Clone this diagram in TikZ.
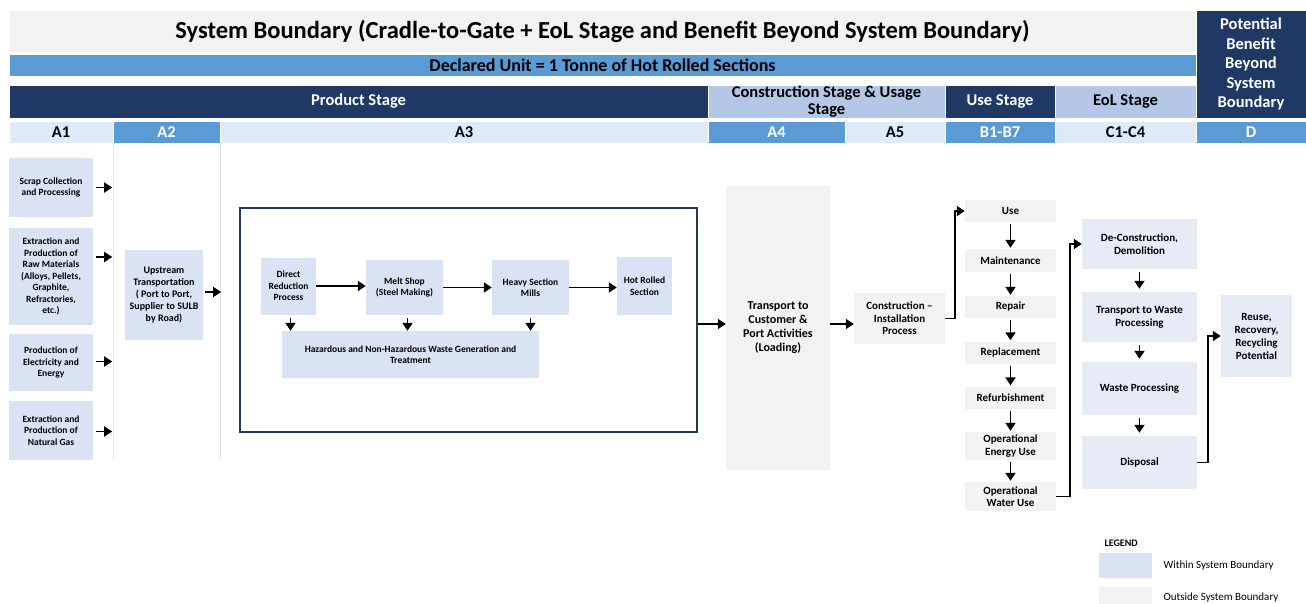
\documentclass[tikz,border=0pt]{standalone}
\usepackage{fontspec}
\setmainfont{Carlito}
\usetikzlibrary{calc,arrows.meta}

\definecolor{navy}{HTML}{203864}
\definecolor{midblue}{HTML}{5B9BD5}
\definecolor{paleblue}{HTML}{B4C7E7}
\definecolor{iceblue}{HTML}{DEEBF7}
\definecolor{inbox}{HTML}{DAE3F3}
\definecolor{inboxlt}{HTML}{E6EBF6}
\definecolor{outbox}{HTML}{F2F2F2}

\tikzset{
  cell/.style={inner sep=0, draw=white, line width=0.8pt, align=center,
    font=\bfseries\fontsize{16.5}{19.5}\selectfont},
  within/.style={inner sep=0, fill=inbox, align=center,
    font=\bfseries\fontsize{9.5}{11.5}\selectfont},
  withinlt/.style={within, fill=inboxlt,
    font=\bfseries\fontsize{11}{13}\selectfont},
  outside/.style={inner sep=0, fill=outbox, align=center,
    font=\bfseries\fontsize{11}{12.5}\selectfont},
  arr/.style={-{Triangle[length=8pt,width=10pt]}, line width=1.8pt},
  sepline/.style={draw=black!9, line width=1.2pt},
}

\begin{document}
\begin{tikzpicture}[x=1pt, y=-1pt]

    \useasboundingbox (0,0) rectangle (1306,604);

    % --- Header bands ---
    \node[cell, fill=outbox, minimum width=1187, minimum height=42,
      font=\bfseries\fontsize{24.5}{28}\selectfont] (title) at (602.5,31)
      {System Boundary (Cradle-to-Gate + EoL Stage and Benefit Beyond System Boundary)};
    \node[cell, fill=midblue, minimum width=1187, minimum height=22,
      font=\bfseries\fontsize{18}{20}\selectfont] (declared) at (602.5,65)
      {Declared Unit = 1 Tonne of Hot Rolled Sections};

    % Stages
    \node[cell, fill=navy, text=white, minimum width=699, minimum height=33] (product) at (358.5,101.5) {Product Stage};
    \node[cell, fill=paleblue, minimum width=237, minimum height=33] (constage) at (826.5,101.5) {Construction Stage \& Usage\\[-2pt]Stage};
    \node[cell, fill=navy, text=white, minimum width=110, minimum height=33] (usestage) at (1000,101.5) {Use Stage};
    \node[cell, fill=paleblue, minimum width=141, minimum height=33] (eolstage) at (1125.5,101.5) {EoL Stage};
    \node[cell, fill=navy, text=white, minimum width=110, minimum height=108] (dstage) at (1251,64)
      {Potential\\Benefit\\Beyond\\System\\Boundary};

    % Modules
    \node[cell, fill=iceblue, minimum width=104, minimum height=22] (a1hdr) at (61,132) {A1};
    \node[cell, fill=midblue, text=white, minimum width=107, minimum height=22] (a2hdr) at (166.5,132) {A2};
    \node[cell, fill=iceblue, minimum width=488, minimum height=22] (a3hdr) at (464,132) {A3};
    \node[cell, fill=midblue, text=white, minimum width=137, minimum height=22] (a4hdr) at (776.5,132) {A4};
    \node[cell, fill=iceblue, minimum width=100, minimum height=22] (a5hdr) at (895,132) {A5};
    \node[cell, fill=midblue, text=white, minimum width=110, minimum height=22] (bhdr) at (1000,132) {B1-B7};
    \node[cell, fill=iceblue, minimum width=141, minimum height=22] (chdr) at (1125.5,132) {C1-C4};
    \node[cell, fill=midblue, text=white, minimum width=110, minimum height=22] (dhdr) at (1251,132) {D};

    % Column separators
    \draw[sepline] (a1hdr.south east) -- ++(0,317);
    \draw[sepline] (a2hdr.south east) -- ++(0,317);

    % --- A1 ---
    \node[within, minimum width=84, minimum height=59] (scrap) at (51,187.5) {Scrap Collection\\and Processing};
    \node[within, minimum width=84, minimum height=97] (raw) at (51,276.5)
      {Extraction and\\Production of\\Raw Materials\\(Alloys, Pellets,\\Graphite,\\Refractories,\\etc.)};
    \node[within, minimum width=84, minimum height=57] (elec) at (51,362.5) {Production of\\Electricity and\\Energy};
    \node[within, minimum width=84, minimum height=59] (gas) at (51,430.5) {Extraction and\\Production of\\Natural Gas};

    \draw[arr] ($(scrap.east)+(3,0)$) -- ++(16,0);
    \draw[arr] ($(raw.east)+(3,-19.5)$) -- ++(16,0);
    \draw[arr] ($(elec.east)+(3,-1)$) -- ++(16,0);
    \draw[arr] ($(gas.east)+(3,1)$) -- ++(16,0);

    % --- A2 ---
    \node[within, minimum width=78, minimum height=90,
      font=\bfseries\fontsize{10}{12}\selectfont] (upstream) at (164,295)
      {Upstream\\Transportation\\( Port to Port,\\Supplier to SULB\\by Road)};
    \draw[arr] ($(upstream.east)+(2,-3)$) -- ++(16,0);

    % --- A3 ---
    \node[draw=navy, line width=2pt, minimum width=457, minimum height=224] (a3frame) at (468.5,320) {};

    \node[within, minimum width=55, minimum height=57] (dr) at (288.5,286) {Direct\\Reduction\\Process};
    \node[within, minimum width=77, minimum height=55] (melt) at (404.5,287.5) {Melt Shop\\(Steel Making)};
    \node[within, minimum width=77, minimum height=55] (mills) at (530.5,287.5) {Heavy Section\\Mills};
    \node[within, minimum width=55, minimum height=58] (hot) at (644.5,286) {Hot Rolled\\Section};
    \node[within, minimum width=257, minimum height=47] (waste) at (410.5,354.5)
      {Hazardous and Non-Hazardous Waste Generation and\\Treatment};

    \draw[arr] (dr.east) -- (dr.east -| melt.west);
    \draw[arr] (melt.east) -- (mills.west);
    \draw[arr] (mills.east) -- (mills.east -| hot.west);

    \draw[arr, shorten <=3pt] ([xshift=2pt]dr.south) -- ([xshift=2pt]dr.south |- waste.north);
    \draw[arr, shorten <=3pt] ([xshift=3pt]melt.south) -- ([xshift=3pt]melt.south |- waste.north);
    \draw[arr, shorten <=3pt] (mills.south) -- (mills.south |- waste.north);

    % --- A4 / A5 ---
    \node[outside, minimum width=104, minimum height=284,
      font=\bfseries\fontsize{12}{14}\selectfont] (trans) at (778,328)
      {Transport to\\Customer \&\\Port Activities\\(Loading)};
    \node[outside, minimum width=91, minimum height=51] (constr) at (899.5,318.5)
      {Construction --\\Installation\\Process};

    \draw[arr] ([yshift=-4pt]a3frame.east) -- ([yshift=-4pt]a3frame.east -| trans.west);
    \draw[arr] ([yshift=4pt]trans.east) -- ([yshift=4pt]trans.east -| constr.west);

    % --- B1-B7 ---
    \node[outside, minimum width=91, minimum height=22] (use) at (1010.5,211) {Use};
    \node[outside, minimum width=91, minimum height=23] (maint) at (1010.5,260.5) {Maintenance};
    \node[outside, minimum width=91, minimum height=22] (repair) at (1010.5,307) {Repair};
    \node[outside, minimum width=91, minimum height=22] (repl) at (1010.5,352.5) {Replacement};
    \node[outside, minimum width=91, minimum height=22] (refurb) at (1010.5,397.5) {Refurbishment};
    \node[outside, minimum width=91, minimum height=28] (openergy) at (1010.5,446) {Operational\\Energy Use};
    \node[outside, minimum width=91, minimum height=29] (opwater) at (1010.5,496.5) {Operational\\Water Use};

    \draw[arr] (constr.east) -- ++(10,0) |- (use.west);
    \draw[arr, shorten <=2pt, shorten >=1pt] (use) -- (maint);
    \draw[arr, shorten <=2pt, shorten >=1pt] (maint) -- (repair);
    \draw[arr, shorten <=2pt, shorten >=1pt] (repair) -- (repl);
    \draw[arr, shorten <=2pt, shorten >=1pt] (repl) -- (refurb);
    \draw[arr, shorten <=2pt, shorten >=1pt] (refurb) -- (openergy);
    \draw[arr, shorten <=2pt, shorten >=1pt] (openergy) -- (opwater);

    % --- C1-C4 ---
    \node[withinlt, minimum width=115, minimum height=50] (decon) at (1139.5,244) {De-Construction,\\Demolition};
    \node[withinlt, minimum width=115, minimum height=50] (twaste) at (1139.5,317) {Transport to Waste\\Processing};
    \node[withinlt, minimum width=115, minimum height=53] (wproc) at (1139.5,388.5) {Waste Processing};
    \node[withinlt, minimum width=115, minimum height=53] (disposal) at (1139.5,462.5) {Disposal};

    \draw[arr] (opwater.east) -- ++(14,0) |- (decon.west);
    \draw[arr, shorten <=3pt, shorten >=3pt] (decon) -- (twaste);
    \draw[arr, shorten <=3pt, shorten >=3pt] (twaste) -- (wproc);
    \draw[arr, shorten <=3pt, shorten >=3pt] (wproc) -- (disposal);

    % --- D ---
    \node[withinlt, minimum width=71, minimum height=82] (reuse) at (1256.5,336)
      {Reuse,\\Recovery,\\Recycling\\Potential};
    \draw[arr] (disposal.east) -- ++(11,0) |- (reuse.west);

    % --- Legend ---
    \node[font=\bfseries\fontsize{10}{12}\selectfont, anchor=west] (legend) at (1101,543) {LEGEND};
    \node[within, minimum width=53, minimum height=25] (keyin) at (1125.5,565.5) {};
    \node[outside, minimum width=53, minimum height=17] (keyout) at (1125.5,595.5) {};
    \node[anchor=west, font=\fontsize{11}{13}\selectfont] (keyintext) at (1160,566) {Within System Boundary};
    \node[anchor=west, font=\fontsize{11}{13}\selectfont] (keyouttext) at (1160,598) {Outside System Boundary};

\end{tikzpicture}
\end{document}
